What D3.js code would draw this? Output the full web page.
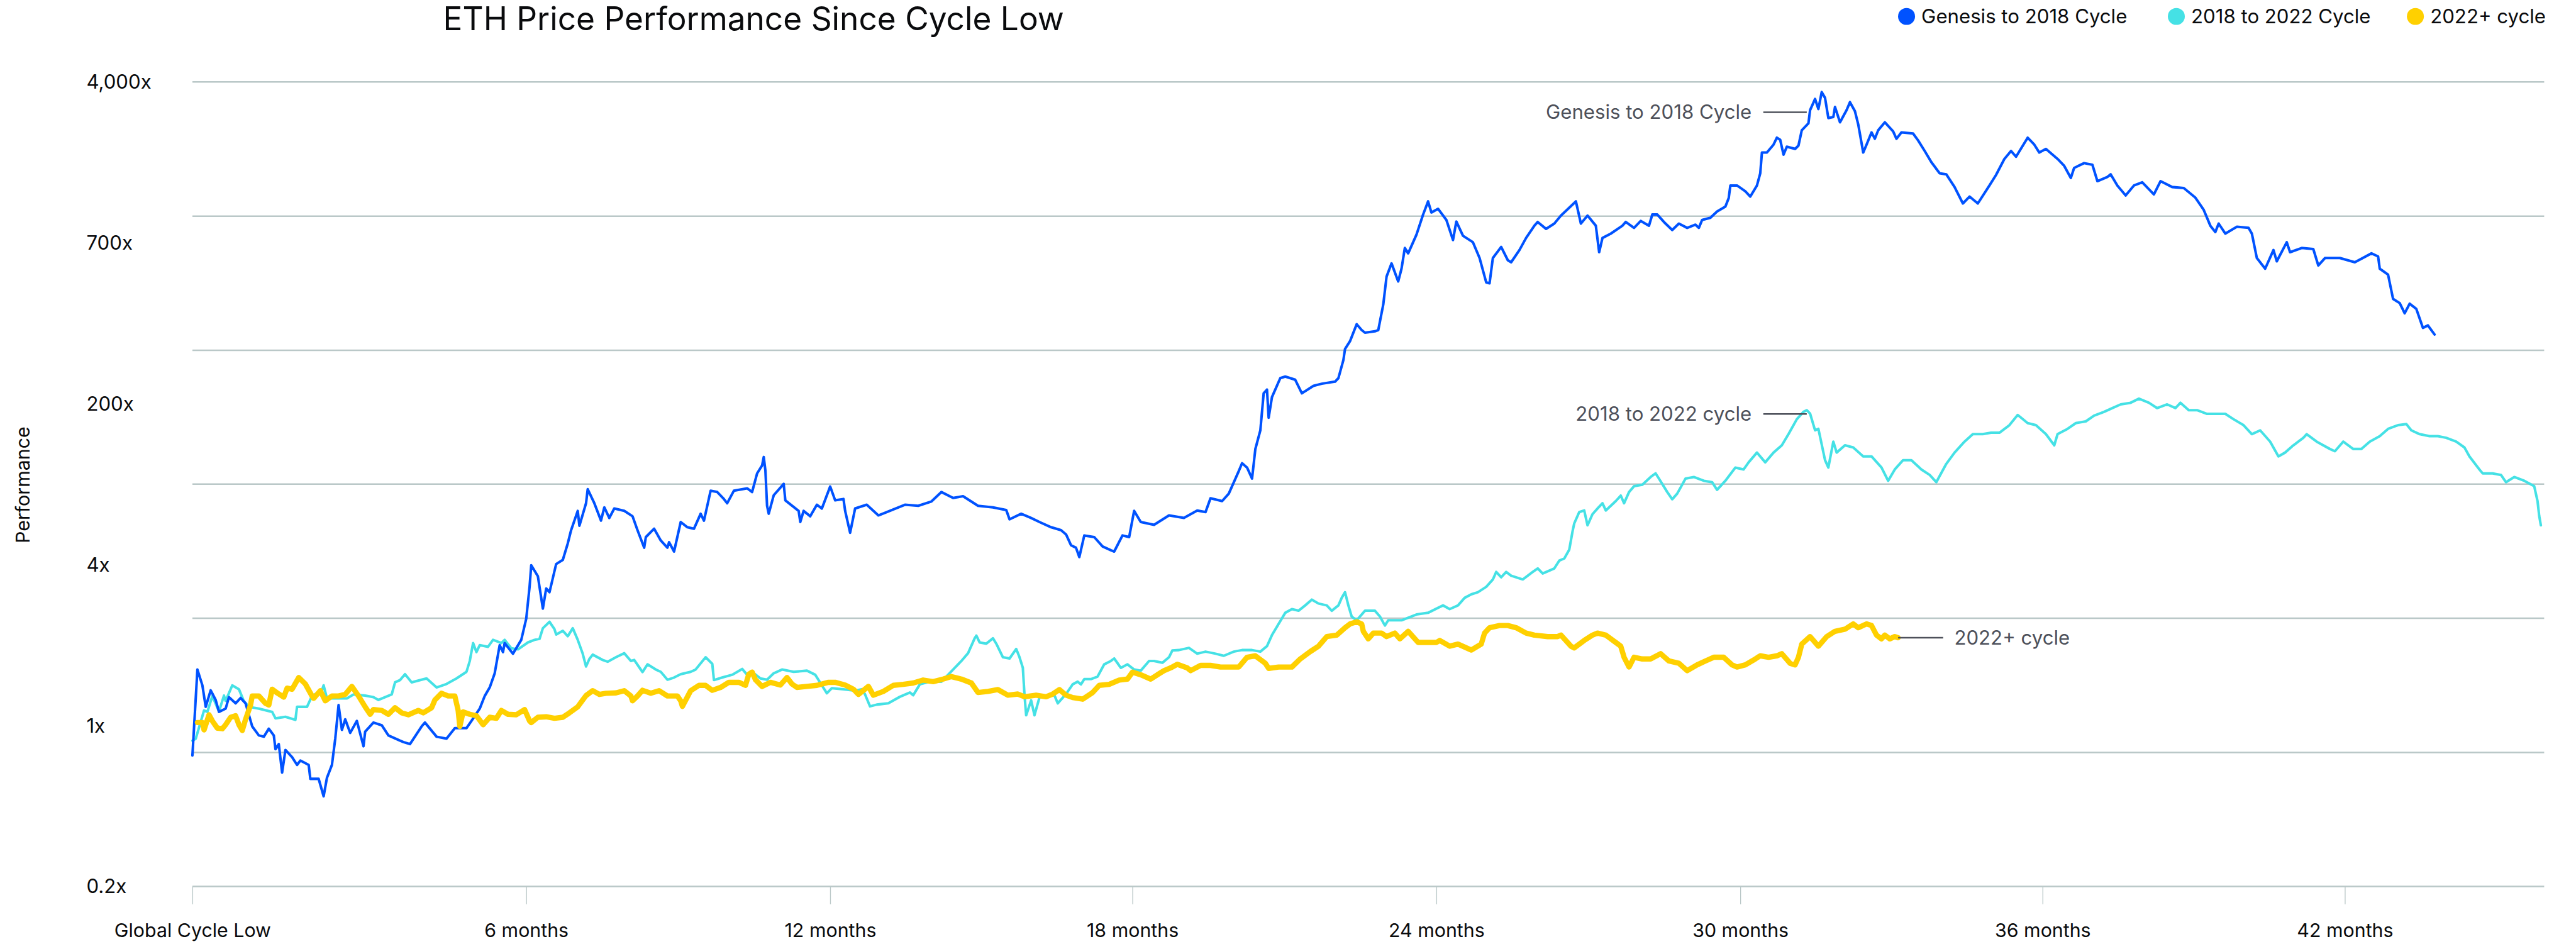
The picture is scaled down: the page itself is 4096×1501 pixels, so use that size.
<!DOCTYPE html>
<html>
<head>
<meta charset="utf-8">
<script src="https://cdn.jsdelivr.net/npm/d3@7"></script>
<style>
html, body { margin: 0; padding: 0; background: #ffffff; }
svg { display: block; font-family: Inter, "Noto Sans", Roboto, sans-serif; }
</style>
</head>
<body>
<svg id="chart"></svg>
<script>
// days since the cycle low, performance multiple
var genesisCycle = [[0,1.0],[3,2.88],[6,2.37],[8,1.82],[11,2.23],[14,1.98],[16,1.71],[20,1.78],[22,2.05],[26,1.90],[29,2.03],[32,1.90],[36,1.43],[40,1.28],[43,1.26],[46,1.39],[49,1.28],[50,1.08],[52,1.15],[54,0.81],[56,1.07],[60,0.98],[63,0.89],[65,0.94],[70,0.89],[71,0.75],[76,0.75],[79,0.605],[81,0.76],[84,0.89],[86,1.23],[88,1.86],[90,1.37],[92,1.56],[95,1.32],[99,1.53],[103,1.12],[104,1.34],[109,1.50],[114,1.45],[118,1.28],[125,1.20],[127,1.18],[131,1.15],[138,1.43],[140,1.50],[147,1.26],[153,1.23],[158,1.40],[165,1.40],[168,1.53],[173,1.78],[176,2.08],[179,2.31],[182,2.75],[185,3.89],[187,3.57],[188,3.99],[193,3.50],[198,4.15],[201,5.39],[203,7.97],[204,10.4],[208,9.08],[211,6.10],[213,7.81],[215,7.46],[219,10.55],[223,11.1],[226,13.6],[228,16.0],[232,20.3],[233,16.9],[237,22.3],[238,26.5],[242,22.3],[246,18.0],[248,21.2],[251,18.6],[254,20.9],[260,20.3],[265,19.0],[268,16.0],[272,12.9],[273,14.7],[278,16.3],[282,14.1],[286,12.9],[287,13.8],[290,12.3],[294,17.7],[298,16.6],[302,16.3],[306,19.6],[308,18.0],[312,26.0],[316,25.6],[320,23.5],[322,22.3],[326,26.0],[334,26.8],[337,25.6],[340,32.2],[343,35.5],[344,39.4],[345,33.3],[346,21.6],[347,19.6],[350,24.6],[356,28.3],[357,23.1],[365,20.3],[366,17.7],[368,20.3],[372,19.0],[376,21.9],[379,20.9],[384,27.4],[387,23.1],[392,23.5],[393,20.3],[396,15.5],[399,20.9],[406,21.9],[413,19.2],[421,20.5],[429,21.9],[437,21.6],[445,22.8],[451,25.6],[458,23.8],[464,24.3],[473,21.6],[482,21.2],[490,20.5],[492,18.3],[499,19.6],[505,18.6],[510,17.7],[517,16.6],[523,16.0],[526,15.2],[529,13.3],[532,12.9],[534,11.5],[537,15.0],[543,14.7],[548,13.1],[553,12.5],[555,12.3],[560,15.0],[564,14.7],[567,20.3],[571,17.7],[579,17.1],[588,19.2],[597,18.6],[605,20.4],[610,20.0],[613,23.7],[620,22.9],[624,25.1],[630,33.1],[632,36.5],[635,34.6],[638,30.2],[640,43.5],[643,54.7],[645,86.3],[647,90.3],[648,63.9],[650,82.4],[655,104],[658,106],[664,102],[668,86.3],[675,94.6],[680,97.1],[688,99.6],[690,104],[693,130],[694,149],[697,164],[701,202],[704,188],[706,182],[712,185],[714,188],[717,257],[719,363],[722,427],[726,342],[728,400],[730,516],[732,483],[737,608],[741,779],[744,916],[746,799],[750,836],[755,729],[759,569],[761,715],[765,600],[771,554],[775,456],[779,338],[781,334],[783,456],[788,523],[792,444],[794,433],[799,503],[803,584],[808,679],[810,711],[815,653],[820,697],[824,769],[829,847],[833,916],[836,697],[840,769],[845,679],[847,490],[849,584],[854,616],[861,679],[863,711],[868,661],[872,720],[877,679],[879,779],[882,779],[886,711],[891,644],[895,697],[900,661],[905,688],[907,661],[909,729],[914,749],[918,809],[923,859],[925,953],[926,1114],[930,1114],[935,1038],[938,972],[942,1114],[944,1295],[945,1671],[948,1671],[952,1842],[954,2006],[956,1956],[958,1628],[960,1796],[965,1748],[967,1820],[969,2198],[973,2392],[974,2817],[977,3230],[979,2856],[981,3517],[983,3275],[985,2553],[988,2589],[989,2929],[992,2424],[996,2817],[998,3106],[1001,2780],[1003,2361],[1006,1671],[1008,1842],[1011,2141],[1013,1980],[1015,2198],[1019,2424],[1024,2169],[1026,1980],[1029,2141],[1036,2113],[1039,1942],[1043,1704],[1047,1486],[1052,1295],[1056,1278],[1061,1093],[1066,893],[1070,972],[1075,893],[1082,1114],[1086,1270],[1091,1545],[1095,1704],[1098,1586],[1105,2006],[1109,1842],[1112,1671],[1116,1748],[1123,1545],[1127,1419],[1131,1222],[1133,1383],[1139,1467],[1144,1437],[1147,1175],[1153,1238],[1155,1278],[1159,1114],[1164,985],[1169,1114],[1174,1159],[1181,998],[1185,1175],[1192,1093],[1199,1079],[1206,959],[1211,825],[1215,679],[1218,628],[1220,697],[1224,616],[1231,670],[1238,661],[1240,616],[1243,456],[1248,400],[1253,503],[1255,438],[1261,554],[1263,490],[1270,516],[1277,509],[1280,416],[1284,456],[1293,456],[1302,433],[1312,483],[1316,465],[1317,400],[1322,372],[1325,276],[1329,262],[1332,231],[1335,260],[1339,244],[1343,193],[1346,199],[1350,178]];

var cycle2018 = [[0,1.2],[2,1.23],[7,1.74],[9,1.71],[12,2.08],[16,1.72],[19,2.09],[20,1.96],[24,2.37],[28,2.26],[31,1.95],[34,1.82],[40,1.78],[48,1.71],[50,1.58],[56,1.61],[62,1.55],[63,1.82],[69,1.82],[72,2.08],[78,2.23],[79,2.37],[81,2.02],[87,2.02],[93,2.02],[97,2.12],[104,2.09],[109,2.05],[112,1.98],[120,2.12],[122,2.46],[125,2.53],[128,2.72],[132,2.46],[138,2.54],[141,2.58],[147,2.31],[153,2.41],[159,2.58],[165,2.80],[167,3.20],[169,3.99],[171,3.57],[173,3.89],[178,3.81],[181,4.15],[186,3.99],[188,4.15],[192,3.74],[196,3.69],[202,4.02],[206,4.15],[209,4.20],[211,4.79],[215,5.18],[218,4.73],[219,4.43],[223,4.64],[226,4.34],[229,4.79],[232,4.15],[235,3.50],[237,2.99],[239,3.28],[241,3.46],[247,3.24],[250,3.17],[255,3.35],[260,3.52],[264,3.20],[266,3.24],[271,2.79],[274,3.07],[279,2.88],[282,2.80],[286,2.54],[290,2.61],[294,2.72],[300,2.80],[303,2.88],[309,3.35],[313,3.09],[314,2.53],[319,2.61],[325,2.70],[331,2.90],[334,2.70],[337,2.80],[342,2.58],[346,2.54],[350,2.75],[355,2.88],[362,2.80],[370,2.84],[375,2.70],[379,2.37],[382,2.15],[385,2.29],[392,2.26],[399,2.22],[403,2.26],[405,2.12],[408,1.83],[412,1.87],[419,1.90],[426,2.06],[432,2.17],[434,2.10],[438,2.40],[444,2.48],[451,2.48],[455,2.70],[459,2.94],[463,3.20],[467,3.52],[471,4.23],[472,4.37],[474,4.02],[478,3.96],[482,4.23],[484,3.96],[488,3.35],[492,3.30],[496,3.71],[498,3.35],[500,2.94],[501,2.10],[502,1.64],[505,1.97],[507,1.64],[510,2.04],[515,2.10],[519,2.10],[521,1.90],[526,2.13],[530,2.40],[533,2.48],[535,2.40],[537,2.56],[541,2.56],[545,2.64],[549,3.07],[553,3.20],[555,3.30],[559,2.94],[563,3.07],[567,2.88],[571,2.84],[576,3.20],[579,3.20],[584,3.13],[588,3.35],[590,3.64],[594,3.66],[600,3.76],[605,3.50],[610,3.59],[616,3.50],[621,3.41],[627,3.59],[632,3.66],[638,3.66],[643,3.59],[647,3.84],[650,4.40],[654,5.05],[658,5.79],[662,6.06],[666,5.94],[670,6.34],[674,6.81],[678,6.49],[683,6.34],[686,5.94],[690,6.34],[692,6.96],[694,7.46],[696,6.34],[698,5.53],[701,5.28],[706,5.94],[712,5.94],[715,5.53],[718,4.95],[720,5.28],[728,5.28],[737,5.67],[744,5.79],[753,6.34],[757,6.06],[762,6.34],[766,6.96],[770,7.27],[774,7.46],[779,7.97],[783,8.73],[785,9.57],[788,8.96],[791,9.57],[794,9.14],[801,8.73],[807,9.57],[810,10.0],[813,9.39],[820,10.0],[823,11.0],[826,11.3],[829,12.6],[831,15.8],[832,17.4],[835,20.0],[838,20.4],[840,17.0],[843,19.5],[846,20.9],[849,22.3],[851,20.4],[857,22.9],[860,24.5],[862,22.3],[865,25.6],[868,27.5],[873,28.0],[878,30.8],[881,32.2],[883,30.2],[888,25.6],[891,23.4],[894,25.1],[899,30.2],[904,30.8],[910,29.4],[915,28.9],[918,26.3],[923,29.4],[929,34.6],[934,33.8],[937,36.9],[942,41.6],[947,36.9],[952,41.6],[957,45.5],[961,52.2],[966,62.7],[970,68.7],[972,70.1],[974,67.2],[977,54.7],[979,55.7],[983,37.9],[985,34.6],[988,47.6],[990,41.6],[995,45.5],[1000,44.3],[1006,39.7],[1011,39.7],[1017,34.6],[1021,29.4],[1025,33.8],[1030,37.9],[1035,37.9],[1041,33.8],[1046,31.6],[1050,28.9],[1056,36.2],[1061,41.6],[1067,47.6],[1072,52.2],[1078,52.2],[1083,53.1],[1088,53.1],[1094,58.3],[1099,66.1],[1105,59.8],[1110,58.3],[1116,52.2],[1121,45.5],[1123,52.2],[1129,55.7],[1134,59.8],[1140,61.1],[1145,65.6],[1151,68.7],[1156,71.9],[1161,75.3],[1167,76.8],[1172,80.8],[1178,76.8],[1183,71.9],[1189,75.3],[1194,71.9],[1197,76.8],[1202,70.1],[1207,70.1],[1213,67.0],[1218,67.0],[1224,67.0],[1229,62.7],[1235,58.3],[1240,52.2],[1245,54.7],[1251,47.6],[1256,39.7],[1260,41.6],[1265,45.5],[1271,49.9],[1273,52.2],[1279,47.6],[1287,43.5],[1290,42.3],[1295,47.6],[1301,43.5],[1306,43.5],[1311,47.6],[1317,50.9],[1322,55.7],[1328,58.3],[1333,59.1],[1336,54.7],[1341,52.2],[1347,50.9],[1352,50.9],[1357,49.9],[1363,47.6],[1368,44.3],[1371,39.7],[1377,33.8],[1379,32.2],[1385,32.2],[1390,31.6],[1393,28.9],[1398,30.8],[1404,29.4],[1410,27.5],[1412,22.9],[1413,19.1],[1414,17.0]];

var cycle2022 = [[3,1.50],[6,1.50],[7,1.37],[10,1.65],[12,1.53],[15,1.40],[18,1.39],[20,1.46],[23,1.60],[26,1.63],[28,1.46],[30,1.36],[32,1.56],[35,1.86],[36,2.08],[40,2.08],[44,1.90],[46,1.86],[48,2.26],[51,2.16],[55,2.05],[57,2.29],[60,2.26],[64,2.61],[68,2.41],[72,2.08],[73,2.02],[77,2.22],[80,1.96],[84,2.08],[88,2.08],[92,2.12],[96,2.34],[100,2.08],[104,1.82],[107,1.66],[109,1.76],[114,1.74],[118,1.66],[122,1.80],[126,1.69],[130,1.65],[136,1.74],[139,1.69],[144,1.80],[146,1.98],[150,2.15],[154,2.08],[158,2.08],[160,1.74],[161,1.43],[163,1.71],[167,1.66],[171,1.63],[175,1.46],[179,1.60],[183,1.58],[186,1.74],[190,1.66],[195,1.65],[200,1.76],[203,1.53],[204,1.50],[208,1.60],[213,1.61],[218,1.58],[223,1.60],[227,1.69],[232,1.82],[235,1.98],[237,2.09],[241,2.22],[245,2.12],[249,2.15],[255,2.16],[260,2.22],[264,2.08],[265,1.96],[268,2.08],[271,2.23],[276,2.15],[281,2.22],[286,2.08],[292,2.08],[294,1.96],[295,1.83],[300,2.22],[305,2.37],[309,2.37],[313,2.23],[318,2.31],[323,2.46],[329,2.46],[333,2.37],[335,2.72],[337,2.79],[339,2.54],[343,2.34],[348,2.46],[354,2.38],[358,2.61],[361,2.41],[364,2.31],[370,2.34],[376,2.37],[383,2.46],[387,2.46],[393,2.38],[398,2.26],[401,2.12],[407,2.34],[410,2.10],[416,2.20],[422,2.37],[428,2.40],[434,2.44],[440,2.53],[446,2.48],[452,2.56],[457,2.64],[463,2.56],[469,2.44],[473,2.17],[479,2.20],[485,2.25],[491,2.10],[497,2.13],[501,2.06],[508,2.10],[514,2.06],[518,2.13],[522,2.25],[526,2.10],[530,2.04],[536,2.00],[542,2.17],[546,2.37],[552,2.40],[558,2.53],[563,2.56],[566,2.79],[571,2.70],[577,2.56],[581,2.70],[585,2.84],[589,2.94],[593,3.07],[599,2.94],[601,2.84],[607,3.03],[613,3.03],[619,2.97],[624,2.97],[630,2.97],[635,3.35],[640,3.41],[646,3.11],[648,2.92],[654,2.97],[662,2.97],[667,3.28],[673,3.59],[678,3.84],[683,4.32],[689,4.40],[694,4.82],[697,5.05],[701,5.18],[704,5.05],[705,4.61],[708,4.20],[711,4.51],[716,4.51],[719,4.32],[724,4.51],[727,4.20],[732,4.61],[738,4.02],[743,4.02],[749,4.02],[751,4.12],[757,3.84],[762,3.94],[770,3.66],[776,3.94],[778,4.51],[781,4.82],[787,4.95],[792,4.95],[797,4.82],[803,4.51],[808,4.40],[816,4.32],[822,4.32],[824,4.40],[830,3.84],[832,3.76],[838,4.12],[843,4.40],[846,4.51],[851,4.40],[857,4.02],[860,3.84],[862,3.35],[865,2.97],[868,3.35],[873,3.28],[878,3.28],[884,3.50],[889,3.20],[895,3.11],[900,2.84],[906,3.05],[911,3.20],[916,3.35],[922,3.35],[927,3.05],[930,2.97],[935,3.05],[941,3.28],[944,3.41],[949,3.35],[954,3.41],[957,3.50],[962,3.11],[965,3.05],[967,3.35],[969,3.94],[974,4.32],[979,3.84],[984,4.32],[989,4.61],[995,4.73],[1000,5.05],[1003,4.82],[1008,5.05],[1011,4.95],[1014,4.40],[1017,4.20],[1019,4.40],[1022,4.20],[1025,4.32],[1027,4.26]];

var seriesNames = ["Genesis to 2018 Cycle", "2018 to 2022 Cycle", "2022+ cycle"];
var seriesColors = ["#0052ff", "#45e1e5", "#ffd000"];

var xTickDays = [0, 201, 384, 566, 749, 932, 1114, 1296];
var xTickLabels = ["Global Cycle Low", "6 months", "12 months", "18 months", "24 months", "30 months", "36 months", "42 months"];
var gridValues = [0.2, 1.04, 5.43, 28.3, 147, 766, 4000];
var yTickLabels = ["0.2x", "1x", "4x", "200x", "700x", "4,000x"];

var annotations = [
	{ label: "Genesis to 2018 Cycle", day: 972, value: 2744, side: "left" },
	{ label: "2018 to 2022 cycle", day: 972, value: 66.9, side: "left" },
	{ label: "2022+ cycle", day: 1027, value: 4.26, side: "right" }
];

// drawing in the reference's own pixel units, scaled down by the viewBox
var W = 4860, H = 1781;
var plotL = 363, plotR = 4800, plotT = 154, plotB = 1672;
var gridColor = "#bac8c8", textColor = "#0a0b0d", noteColor = "#4d505a";

var svg = d3.select("#chart")
	.attr("width", 4096).attr("height", 1501)
	.attr("viewBox", "0 0 " + W + " " + H);

svg.append("rect").attr("width", W).attr("height", H).attr("fill", "#fff");

var x = d3.scaleLinear().domain([0, 1416]).range([plotL, plotR]);
var y = d3.scaleLog().domain([0.2, 4000]).range([plotB, plotT]);
var yLabel = d3.scalePoint().domain(yTickLabels).range([plotB, plotT]);

// grid
var grid = svg.append("g").attr("transform", "translate(" + plotL + ",0)")
	.call(d3.axisLeft(y).tickValues(gridValues).tickSize(-(plotR - plotL)).tickFormat(""));
grid.select(".domain").remove();
grid.selectAll("line").attr("stroke", gridColor).attr("stroke-width", 3);

// y labels (spaced on their own, as in the reference)
var yAxis = svg.append("g").attr("transform", "translate(163,0)")
	.call(d3.axisRight(yLabel).tickSize(0).tickPadding(0));
yAxis.select(".domain").remove();
yAxis.selectAll("text")
	.attr("font-size", 37).attr("fill", textColor)
	.attr("font-family", "Inter, 'Noto Sans', sans-serif")
	.attr("dy", "0.35em");

// x axis
var xAxis = svg.append("g").attr("transform", "translate(0," + plotB + ")")
	.call(d3.axisBottom(x).tickValues(xTickDays).tickSize(34)
		.tickFormat(function(d, i) { return xTickLabels[i]; }));
xAxis.select(".domain").remove();
xAxis.selectAll("line").attr("stroke", gridColor).attr("stroke-width", 1.6);
xAxis.selectAll("text")
	.attr("y", 96).attr("dy", null)
	.attr("font-size", 36).attr("fill", textColor)
	.attr("font-family", "Inter, 'Noto Sans', sans-serif");

svg.append("text")
	.attr("transform", "translate(43,915) rotate(-90)")
	.attr("text-anchor", "middle").attr("dy", "0.35em")
	.attr("font-size", 36).attr("fill", textColor)
	.text("Performance");

// lines
var line = d3.line().x(function(d) { return x(d[0]); }).y(function(d) { return y(d[1]); });
var seriesData = [cycle2018, genesisCycle, cycle2022];
var seriesIdx = [1, 0, 2];
var widths = [4.8, 4.8, 10];
svg.append("g").selectAll("path").data(seriesData).enter().append("path")
	.attr("d", line)
	.attr("fill", "none")
	.attr("stroke", function(d, i) { return seriesColors[seriesIdx[i]]; })
	.attr("stroke-width", function(d, i) { return widths[seriesIdx[i]]; })
	.attr("stroke-linejoin", "round")
	.attr("stroke-linecap", "round");

// annotations
var ann = svg.append("g").selectAll("g").data(annotations).enter().append("g");
ann.each(function(a) {
	var g = d3.select(this);
	var ax = x(a.day), ay = y(a.value);
	var x1 = a.side === "left" ? ax - 82 : ax + 85;
	g.append("line").attr("x1", ax).attr("x2", x1).attr("y1", ay).attr("y2", ay)
		.attr("stroke", noteColor).attr("stroke-width", 3);
	g.append("text")
		.attr("x", a.side === "left" ? x1 - 22 : x1 + 21)
		.attr("y", ay).attr("dy", "0.35em")
		.attr("text-anchor", a.side === "left" ? "end" : "start")
		.attr("font-size", 37).attr("fill", noteColor)
		.text(a.label);
});

// title
svg.append("text").attr("x", 836).attr("y", 57)
	.attr("font-size", 61).attr("fill", textColor)
	.text("ETH Price Performance Since Cycle Low");

// legend
var legendX = [3597, 4106, 4557];
var leg = svg.append("g").selectAll("g").data(seriesNames).enter().append("g")
	.attr("transform", function(d, i) { return "translate(" + legendX[i] + ",31)"; });
leg.append("circle").attr("r", 16).attr("fill", function(d, i) { return seriesColors[i]; });
leg.append("text").attr("x", 28).attr("dy", "0.35em")
	.attr("font-size", 37).attr("fill", textColor)
	.text(function(d) { return d; });
</script>
</body>
</html>
